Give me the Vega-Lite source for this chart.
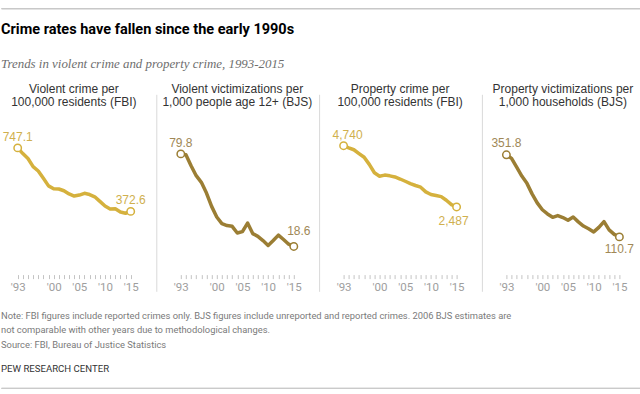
{
  "$schema": "https://vega.github.io/schema/vega-lite/v6.json",
  "padding": {"left": 0, "right": 0, "top": 7, "bottom": 0},
  "background": "white",
  "config": {"view": {"stroke": null}, "font": "Liberation Sans"},
  "datasets": {
    "vfbi": [
      {"year": 1993, "value": 747.1}, {"year": 1994, "value": 713.6}, {"year": 1995, "value": 684.5}, {"year": 1996, "value": 636.6},
      {"year": 1997, "value": 611.0}, {"year": 1998, "value": 567.6}, {"year": 1999, "value": 523.0}, {"year": 2000, "value": 506.5},
      {"year": 2001, "value": 504.5}, {"year": 2002, "value": 494.4}, {"year": 2003, "value": 475.8}, {"year": 2004, "value": 463.2},
      {"year": 2005, "value": 469.0}, {"year": 2006, "value": 479.3}, {"year": 2007, "value": 471.8}, {"year": 2008, "value": 458.6},
      {"year": 2009, "value": 431.9}, {"year": 2010, "value": 404.5}, {"year": 2011, "value": 387.1}, {"year": 2012, "value": 387.8},
      {"year": 2013, "value": 369.1}, {"year": 2014, "value": 361.6}, {"year": 2015, "value": 372.6}
    ],
    "vbjs": [
      {"year": 1993, "value": 79.8}, {"year": 1994, "value": 79.3}, {"year": 1995, "value": 72.0}, {"year": 1996, "value": 65.4},
      {"year": 1997, "value": 61.0}, {"year": 1998, "value": 53.9}, {"year": 1999, "value": 45.1}, {"year": 2000, "value": 38.1},
      {"year": 2001, "value": 33.7}, {"year": 2002, "value": 32.4}, {"year": 2003, "value": 31.9}, {"year": 2004, "value": 27.5},
      {"year": 2005, "value": 28.4}, {"year": 2006, "value": 34.1}, {"year": 2007, "value": 27.1}, {"year": 2008, "value": 25.3},
      {"year": 2009, "value": 22.5}, {"year": 2010, "value": 19.3}, {"year": 2011, "value": 22.6}, {"year": 2012, "value": 26.1},
      {"year": 2013, "value": 23.2}, {"year": 2014, "value": 20.1}, {"year": 2015, "value": 18.6}
    ],
    "pfbi": [
      {"year": 1993, "value": 4740.0}, {"year": 1994, "value": 4660.2}, {"year": 1995, "value": 4590.5}, {"year": 1996, "value": 4451.0},
      {"year": 1997, "value": 4316.3}, {"year": 1998, "value": 4052.5}, {"year": 1999, "value": 3743.6}, {"year": 2000, "value": 3618.3},
      {"year": 2001, "value": 3658.1}, {"year": 2002, "value": 3630.6}, {"year": 2003, "value": 3591.2}, {"year": 2004, "value": 3514.1},
      {"year": 2005, "value": 3431.5}, {"year": 2006, "value": 3346.6}, {"year": 2007, "value": 3276.4}, {"year": 2008, "value": 3214.6},
      {"year": 2009, "value": 3041.3}, {"year": 2010, "value": 2945.9}, {"year": 2011, "value": 2905.4}, {"year": 2012, "value": 2868.0},
      {"year": 2013, "value": 2733.6}, {"year": 2014, "value": 2574.1}, {"year": 2015, "value": 2487.0}
    ],
    "pbjs": [
      {"year": 1993, "value": 351.8}, {"year": 1994, "value": 341.2}, {"year": 1995, "value": 315.5}, {"year": 1996, "value": 289.3},
      {"year": 1997, "value": 267.9}, {"year": 1998, "value": 237.1}, {"year": 1999, "value": 210.6}, {"year": 2000, "value": 190.4},
      {"year": 2001, "value": 178.1}, {"year": 2002, "value": 168.2}, {"year": 2003, "value": 173.4}, {"year": 2004, "value": 167.5},
      {"year": 2005, "value": 159.5}, {"year": 2006, "value": 169.0}, {"year": 2007, "value": 154.8}, {"year": 2008, "value": 142.6},
      {"year": 2009, "value": 134.7}, {"year": 2010, "value": 125.4}, {"year": 2011, "value": 138.7}, {"year": 2012, "value": 155.8},
      {"year": 2013, "value": 131.4}, {"year": 2014, "value": 118.1}, {"year": 2015, "value": 110.7}
    ]
  },
  "spacing": 10.3,
  "vconcat": [
    {
      "width": 640, "height": 0.5,
      "view": {"stroke": "#c8c8c8", "strokeWidth": 1},
      "data": {"values": [{}]},
      "mark": {"type": "text", "text": "", "fontSize": 0, "baseline": "top"},
      "title": {
        "text": "Crime rates have fallen since the early 1990s",
        "subtitle": "Trends in violent crime and property crime, 1993-2015",
        "orient": "bottom", "anchor": "start", "frame": "group", "offset": 14.5,
        "font": "Roboto", "fontSize": 14.5, "fontWeight": "bold", "color": "#000000",
        "subtitleFont": "Liberation Serif", "subtitleFontStyle": "italic", "subtitleFontSize": 12.9,
        "subtitleColor": "#6e6e6e", "subtitlePadding": 20.5
      }
    },
    {
      "spacing": 49.8,
      "bounds": "flush",
      "hconcat": [
        {
          "width": 129.7, "height": 197,
          "title": {"text": ["Violent crime per", "100,000 residents (FBI)"], "anchor": "middle", "frame": "group", "dx": 8, "offset": -15, "font": "Liberation Sans", "fontSize": 12, "fontWeight": "normal", "color": "#333333", "lineHeight": 13.4},
          "data": {"name": "vfbi"},
          "encoding": {
            "x": {"field": "year", "type": "quantitative", "scale": {"domain": [1989.75, 2015], "nice": false, "zero": false},
              "axis": {"values": [1993,1994,1995,1996,1997,1998,1999,2000,2001,2002,2003,2004,2005,2006,2007,2008,2009,2010,2011,2012,2013,2014,2015],
                "domain": false, "grid": false, "title": " ", "titleFontSize": 2, "titlePadding": 5.2, "offset": -16.7, "tickSize": 4, "tickColor": "#c4c4c4", "tickWidth": 1,
                "labelExpr": "indexof([1993,2000,2005,2010,2015], datum.value) >= 0 ? \"'\" + substring(toString(datum.value), 2) : ''",
                "labelFont": "Roboto", "labelFontSize": 11.5, "labelColor": "#9e9e9e", "labelPadding": 3,
                "labelFlush": false, "labelOverlap": false, "labelBound": false}},
            "y": {"field": "value", "type": "quantitative", "scale": {"domain": [-98.5, 1063], "nice": false, "zero": false}, "axis": null}
          },
          "layer": [
            {"data": {"values": [{}]}, "mark": {"type": "rule", "color": "#c4c4c4", "strokeWidth": 1},
             "encoding": {"x": {"datum": 1993}, "x2": {"datum": 2015}, "y": {"datum": 0}}},
            {"mark": {"type": "line", "color": "#d5b13d", "strokeWidth": 3.5, "strokeCap": "round", "strokeJoin": "round"}},
            {"transform": [{"filter": "datum.year == 1993 || datum.year == 2015"}],
             "mark": {"type": "point", "shape": "circle", "filled": true, "fill": "white", "stroke": "#d5b13d", "strokeWidth": 1.5, "size": 55, "opacity": 1}},
            {"transform": [{"filter": "datum.year == 1993"}],
             "mark": {"type": "text", "dy": -7, "baseline": "alphabetic", "fontSize": 12, "color": "#d0b04e"},
             "encoding": {"text": {"field": "value", "type": "quantitative", "format": ".1f"}}},
            {"transform": [{"filter": "datum.year == 2015"}],
             "mark": {"type": "text", "dy": -7.5, "baseline": "alphabetic", "fontSize": 12, "color": "#d0b04e"},
             "encoding": {"text": {"field": "value", "type": "quantitative", "format": ".1f"}}}
          ]
        },
        {
          "width": 113, "height": 197,
          "title": {"text": ["Violent victimizations per", "1,000 people age 12+ (BJS)"], "anchor": "middle", "frame": "group", "offset": -15, "font": "Liberation Sans", "fontSize": 12, "fontWeight": "normal", "color": "#333333", "lineHeight": 13.4},
          "data": {"name": "vbjs"},
          "encoding": {
            "x": {"field": "year", "type": "quantitative", "scale": {"domain": [1993, 2015], "nice": false, "zero": false},
              "axis": {"values": [1993,1994,1995,1996,1997,1998,1999,2000,2001,2002,2003,2004,2005,2006,2007,2008,2009,2010,2011,2012,2013,2014,2015],
                "domain": false, "grid": false, "title": null, "offset": -16.7, "tickSize": 4, "tickColor": "#c4c4c4", "tickWidth": 1,
                "labelExpr": "indexof([1993,2000,2005,2010,2015], datum.value) >= 0 ? \"'\" + substring(toString(datum.value), 2) : ''",
                "labelFont": "Roboto", "labelFontSize": 11.5, "labelColor": "#9e9e9e", "labelPadding": 3,
                "labelFlush": false, "labelOverlap": false, "labelBound": false}},
            "y": {"field": "value", "type": "quantitative", "scale": {"domain": [-11.04, 119.2], "nice": false, "zero": false},
              "axis": {"orient": "left", "offset": 24.5, "domain": true, "domainColor": "#d9d9d9", "domainWidth": 1, "ticks": false, "labels": false, "grid": false, "title": null}}
          },
          "layer": [
            {"data": {"values": [{}]}, "mark": {"type": "rule", "color": "#c4c4c4", "strokeWidth": 1},
             "encoding": {"x": {"datum": 1993}, "x2": {"datum": 2015}, "y": {"datum": 0}}},
            {"mark": {"type": "line", "color": "#9b7e34", "strokeWidth": 3.5, "strokeCap": "round", "strokeJoin": "round"}},
            {"transform": [{"filter": "datum.year == 1993 || datum.year == 2015"}],
             "mark": {"type": "point", "shape": "circle", "filled": true, "fill": "white", "stroke": "#9b7e34", "strokeWidth": 1.5, "size": 55, "opacity": 1}},
            {"transform": [{"filter": "datum.year == 1993"}],
             "mark": {"type": "text", "dy": -7, "baseline": "alphabetic", "fontSize": 12, "color": "#a08856"},
             "encoding": {"text": {"field": "value", "type": "quantitative", "format": ".1f"}}},
            {"transform": [{"filter": "datum.year == 2015"}],
             "mark": {"type": "text", "dy": -11, "dx": 5, "baseline": "alphabetic", "fontSize": 12, "color": "#a08856"},
             "encoding": {"text": {"field": "value", "type": "quantitative", "format": ".1f"}}}
          ]
        },
        {
          "width": 113, "height": 197,
          "title": {"text": ["Property crime per", "100,000 residents (FBI)"], "anchor": "middle", "frame": "group", "offset": -15, "font": "Liberation Sans", "fontSize": 12, "fontWeight": "normal", "color": "#333333", "lineHeight": 13.4},
          "data": {"name": "pfbi"},
          "encoding": {
            "x": {"field": "year", "type": "quantitative", "scale": {"domain": [1993, 2015], "nice": false, "zero": false},
              "axis": {"values": [1993,1994,1995,1996,1997,1998,1999,2000,2001,2002,2003,2004,2005,2006,2007,2008,2009,2010,2011,2012,2013,2014,2015],
                "domain": false, "grid": false, "title": null, "offset": -16.7, "tickSize": 4, "tickColor": "#c4c4c4", "tickWidth": 1,
                "labelExpr": "indexof([1993,2000,2005,2010,2015], datum.value) >= 0 ? \"'\" + substring(toString(datum.value), 2) : ''",
                "labelFont": "Roboto", "labelFontSize": 11.5, "labelColor": "#9e9e9e", "labelPadding": 3,
                "labelFlush": false, "labelOverlap": false, "labelBound": false}},
            "y": {"field": "value", "type": "quantitative", "scale": {"domain": [-614, 6629], "nice": false, "zero": false},
              "axis": {"orient": "left", "offset": 24.5, "domain": true, "domainColor": "#d9d9d9", "domainWidth": 1, "ticks": false, "labels": false, "grid": false, "title": null}}
          },
          "layer": [
            {"data": {"values": [{}]}, "mark": {"type": "rule", "color": "#c4c4c4", "strokeWidth": 1},
             "encoding": {"x": {"datum": 1993}, "x2": {"datum": 2015}, "y": {"datum": 0}}},
            {"mark": {"type": "line", "color": "#d5b13d", "strokeWidth": 3.5, "strokeCap": "round", "strokeJoin": "round"}},
            {"transform": [{"filter": "datum.year == 1993 || datum.year == 2015"}],
             "mark": {"type": "point", "shape": "circle", "filled": true, "fill": "white", "stroke": "#d5b13d", "strokeWidth": 1.5, "size": 55, "opacity": 1}},
            {"transform": [{"filter": "datum.year == 1993"}],
             "mark": {"type": "text", "dy": -7, "dx": 4, "baseline": "alphabetic", "fontSize": 12, "color": "#d0b04e"},
             "encoding": {"text": {"field": "value", "type": "quantitative", "format": ",.0f"}}},
            {"transform": [{"filter": "datum.year == 2015"}],
             "mark": {"type": "text", "dy": 18.5, "dx": -3, "baseline": "alphabetic", "fontSize": 12, "color": "#d0b04e"},
             "encoding": {"text": {"field": "value", "type": "quantitative", "format": ",.0f"}}}
          ]
        },
        {
          "width": 113, "height": 197,
          "title": {"text": ["Property victimizations per", "1,000 households (BJS)"], "anchor": "middle", "frame": "group", "offset": -15, "font": "Liberation Sans", "fontSize": 12, "fontWeight": "normal", "color": "#333333", "lineHeight": 13.4},
          "data": {"name": "pbjs"},
          "encoding": {
            "x": {"field": "year", "type": "quantitative", "scale": {"domain": [1993, 2015], "nice": false, "zero": false},
              "axis": {"values": [1993,1994,1995,1996,1997,1998,1999,2000,2001,2002,2003,2004,2005,2006,2007,2008,2009,2010,2011,2012,2013,2014,2015],
                "domain": false, "grid": false, "title": null, "offset": -16.7, "tickSize": 4, "tickColor": "#c4c4c4", "tickWidth": 1,
                "labelExpr": "indexof([1993,2000,2005,2010,2015], datum.value) >= 0 ? \"'\" + substring(toString(datum.value), 2) : ''",
                "labelFont": "Roboto", "labelFontSize": 11.5, "labelColor": "#9e9e9e", "labelPadding": 3,
                "labelFlush": false, "labelOverlap": false, "labelBound": false}},
            "y": {"field": "value", "type": "quantitative", "scale": {"domain": [-49.0, 529.4], "nice": false, "zero": false},
              "axis": {"orient": "left", "offset": 24.5, "domain": true, "domainColor": "#d9d9d9", "domainWidth": 1, "ticks": false, "labels": false, "grid": false, "title": null}}
          },
          "layer": [
            {"data": {"values": [{}]}, "mark": {"type": "rule", "color": "#c4c4c4", "strokeWidth": 1},
             "encoding": {"x": {"datum": 1993}, "x2": {"datum": 2015}, "y": {"datum": 0}}},
            {"mark": {"type": "line", "color": "#9b7e34", "strokeWidth": 3.5, "strokeCap": "round", "strokeJoin": "round"}},
            {"transform": [{"filter": "datum.year == 1993 || datum.year == 2015"}],
             "mark": {"type": "point", "shape": "circle", "filled": true, "fill": "white", "stroke": "#9b7e34", "strokeWidth": 1.5, "size": 55, "opacity": 1}},
            {"transform": [{"filter": "datum.year == 1993"}],
             "mark": {"type": "text", "dy": -7.5, "baseline": "alphabetic", "fontSize": 12, "color": "#a08856"},
             "encoding": {"text": {"field": "value", "type": "quantitative", "format": ".1f"}}},
            {"transform": [{"filter": "datum.year == 2015"}],
             "mark": {"type": "text", "dy": 16.5, "baseline": "alphabetic", "fontSize": 12, "color": "#a08856"},
             "encoding": {"text": {"field": "value", "type": "quantitative", "format": ".1f"}}}
          ]
        }
      ]
    },
    {
      "width": 640, "height": 0.5,
      "view": {"stroke": "#c8c8c8", "strokeWidth": 1},
      "data": {"values": [{}]},
      "mark": {"type": "text", "text": "", "fontSize": 0, "baseline": "top"},
      "title": {
        "text": ["Note: FBI figures include reported crimes only. BJS figures include unreported and reported crimes. 2006 BJS estimates are", "not comparable with other years due to methodological changes.", "Source: FBI, Bureau of Justice Statistics"],
        "subtitle": "PEW RESEARCH CENTER",
        "orient": "top", "anchor": "start", "frame": "group", "offset": 14,
        "font": "Roboto", "fontSize": 9.35, "fontWeight": "normal", "color": "#7a7a7a", "lineHeight": 14.5,
        "subtitleFont": "Roboto", "subtitleFontSize": 9.6, "subtitleColor": "#333333", "subtitlePadding": 13.9
      }
    }
  ]
}
